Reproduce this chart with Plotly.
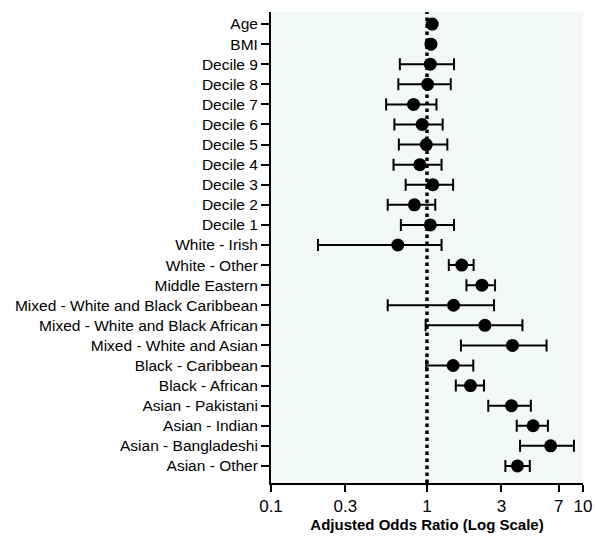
import plotly.graph_objects as go

categories = ["Age", "BMI", "Decile 9", "Decile 8", "Decile 7", "Decile 6", "Decile 5",
              "Decile 4", "Decile 3", "Decile 2", "Decile 1", "White - Irish", "White - Other",
              "Middle Eastern", "Mixed - White and Black Caribbean", "Mixed - White and Black African",
              "Mixed - White and Asian", "Black - Caribbean", "Black - African", "Asian - Pakistani",
              "Asian - Indian", "Asian - Bangladeshi", "Asian - Other"]
odds_ratio = [1.08, 1.06, 1.05, 1.01, 0.82, 0.93, 0.99, 0.90, 1.09, 0.83, 1.05, 0.65, 1.67,
              2.25, 1.48, 2.35, 3.53, 1.47, 1.90, 3.48, 4.79, 6.2, 3.80]
ci_low = [1.06, 1.04, 0.67, 0.655, 0.547, 0.618, 0.66, 0.61, 0.73, 0.56, 0.68, 0.20, 1.38,
          1.79, 0.56, 0.98, 1.65, 0.99, 1.53, 2.47, 3.76, 3.95, 3.18]
ci_high = [1.10, 1.08, 1.49, 1.42, 1.15, 1.26, 1.35, 1.24, 1.47, 1.13, 1.49, 1.24, 1.99,
           2.73, 2.69, 4.09, 5.84, 1.98, 2.32, 4.63, 5.96, 8.75, 4.56]
x_ticks = [0.1, 0.3, 1, 3, 7, 10]
x_tick_labels = ["0.1", "0.3", "1", "3", "7", "10"]

err_plus = [h - o for h, o in zip(ci_high, odds_ratio)]
err_minus = [o - l for o, l in zip(odds_ratio, ci_low)]

fig = go.Figure()
fig.add_shape(type="line", xref="x", yref="paper", x0=1, x1=1, y0=0, y1=1,
              line=dict(color="black", width=3.5, dash="dot"), layer="below")
fig.add_trace(go.Scatter(
    x=odds_ratio, y=categories, mode="markers",
    marker=dict(color="black", size=13, symbol="circle"),
    error_x=dict(type="data", symmetric=False, array=err_plus, arrayminus=err_minus,
                 color="black", thickness=2, width=6),
    showlegend=False,
))

fig.update_layout(
    width=595, height=538,
    margin=dict(l=271, r=12, t=12, b=55),
    paper_bgcolor="white",
    plot_bgcolor="#f3f9f4",
    font=dict(family="Liberation Sans, Arial, sans-serif", color="black"),
    showlegend=False,
)
fig.update_xaxes(
    type="log", range=[-1, 1], automargin=False,
    tickvals=x_ticks, ticktext=x_tick_labels,
    tickfont=dict(size=17),
    showgrid=False, zeroline=False,
    showline=True, linecolor="black", linewidth=2,
    ticks="outside", ticklen=7, tickwidth=2, tickcolor="black",
    title=dict(text="<b>Adjusted Odds Ratio (Log Scale)</b>", font=dict(size=15), standoff=3),
)
fig.update_yaxes(
    type="category", categoryorder="array", categoryarray=categories[::-1],
    range=[-0.85, 22.6], automargin=False,
    tickfont=dict(size=15.5),
    showgrid=False, zeroline=False,
    showline=True, linecolor="black", linewidth=2,
    ticks="outside", ticklen=8, tickwidth=2, tickcolor="black",
)

fig.write_html(
    "out.html",
    config={"responsive": False, "displayModeBar": False},
    post_script="document.body.style.margin='0';document.body.style.overflow='hidden';",
)
